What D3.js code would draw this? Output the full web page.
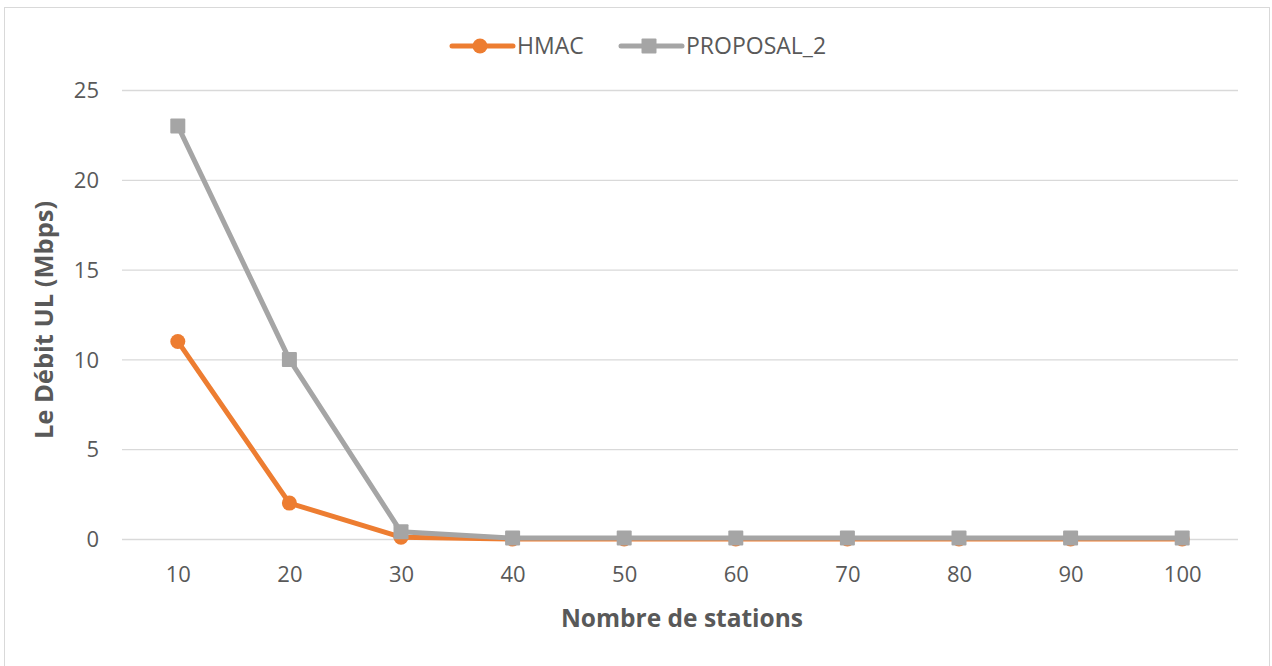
<!DOCTYPE html>
<html>
<head>
<meta charset="utf-8">
<script src="https://cdn.jsdelivr.net/npm/d3@7/dist/d3.min.js"></script>
<style>
  html, body { margin: 0; padding: 0; background: #fff; }
  svg { display: block; }
  text { font-family: "Open Sans", "Noto Sans", sans-serif; fill: #595959; }
</style>
</head>
<body>
<svg id="chart" width="1272" height="666"></svg>
<script>
// Number of stations on the x axis
const stations = ["10", "20", "30", "40", "50", "60", "70", "80", "90", "100"];
// UL throughput (Mbps) per scheme
const hmac = [11, 2, 0.1, 0, 0, 0, 0, 0, 0, 0];
const proposal2 = [23, 10, 0.4, 0.05, 0.05, 0.05, 0.05, 0.05, 0.05, 0.05];
const yTicks = [0, 5, 10, 15, 20, 25];

const series = [
  { name: "HMAC", values: hmac, color: "#ED7D31", marker: "circle" },
  { name: "PROPOSAL_2", values: proposal2, color: "#A5A5A5", marker: "square" }
];

const svg = d3.select("#chart");

// chart frame
svg.append("rect")
  .attr("x", 4.5).attr("y", 7.5)
  .attr("width", 1265).attr("height", 670)
  .attr("fill", "#fff").attr("stroke", "#D9D9D9").attr("stroke-width", 1);

const plot = { left: 122, right: 1238, top: 90, bottom: 539 };

const x = d3.scalePoint().domain(stations)
  .range([plot.left, plot.right]).padding(0.5);
const y = d3.scaleLinear().domain([0, 25]).range([plot.bottom, plot.top]);

// horizontal gridlines
svg.append("g")
  .selectAll("line").data(yTicks).join("line")
  .attr("x1", plot.left).attr("x2", plot.right)
  .attr("y1", d => y(d) + 0.5).attr("y2", d => y(d) + 0.5)
  .attr("stroke", "#D9D9D9").attr("stroke-width", 1.3);

// y axis labels
const yAxis = svg.append("g")
  .attr("transform", `translate(${plot.left - 23},0)`)
  .call(d3.axisLeft(y).tickValues(yTicks).tickSize(0).tickPadding(0));
yAxis.select(".domain").remove();
yAxis.selectAll("text")
  .attr("font-size", 22).style("font-family", "'Open Sans', sans-serif")
  .attr("fill", "#595959").attr("dy", "0.35em");

// x axis labels
const xAxis = svg.append("g")
  .attr("transform", `translate(0,${plot.bottom + 35})`)
  .call(d3.axisBottom(x).tickSize(0).tickPadding(0));
xAxis.select(".domain").remove();
xAxis.selectAll("text")
  .attr("font-size", 22).style("font-family", "'Open Sans', sans-serif")
  .attr("fill", "#595959").attr("dy", "0.35em");

// axis titles
svg.append("text")
  .attr("x", (plot.left + plot.right) / 2 + 2).attr("y", 627)
  .attr("text-anchor", "middle")
  .attr("font-size", 24.5).attr("font-weight", "bold")
  .text("Nombre de stations");

svg.append("text")
  .attr("transform", `translate(53,320) rotate(-90)`)
  .attr("text-anchor", "middle")
  .attr("font-size", 25.5).attr("font-weight", "bold")
  .text("Le Débit UL (Mbps)");

// lines and markers
const line = d3.line().x((d, i) => x(stations[i])).y(d => y(d));

function drawMarker(g, type, color, cx, cy) {
  if (type === "circle") {
    g.append("circle").attr("cx", cx).attr("cy", cy).attr("r", 7.5).attr("fill", color);
  } else {
    g.append("rect").attr("x", cx - 7.5).attr("y", cy - 7.5)
      .attr("width", 15).attr("height", 15).attr("rx", 1).attr("fill", color);
  }
}

series.forEach(s => {
  const g = svg.append("g");
  g.append("path").datum(s.values)
    .attr("d", line)
    .attr("fill", "none").attr("stroke", s.color)
    .attr("stroke-width", 5).attr("stroke-linejoin", "round").attr("stroke-linecap", "round");
  s.values.forEach((v, i) => drawMarker(g, s.marker, s.color, x(stations[i]), y(v)));
});

// legend
const legendItems = [
  { s: series[0], x0: 452 },
  { s: series[1], x0: 621 }
];
legendItems.forEach(({ s, x0 }) => {
  const g = svg.append("g");
  const ly = 46;
  g.append("line").attr("x1", x0).attr("x2", x0 + 61)
    .attr("y1", ly).attr("y2", ly)
    .attr("stroke", s.color).attr("stroke-width", 5).attr("stroke-linecap", "round");
  drawMarker(g, s.marker, s.color, x0 + 28, ly);
  g.append("text").attr("x", x0 + 65).attr("y", ly).attr("dy", "0.36em")
    .attr("font-size", 23).text(s.name);
});
</script>
</body>
</html>
